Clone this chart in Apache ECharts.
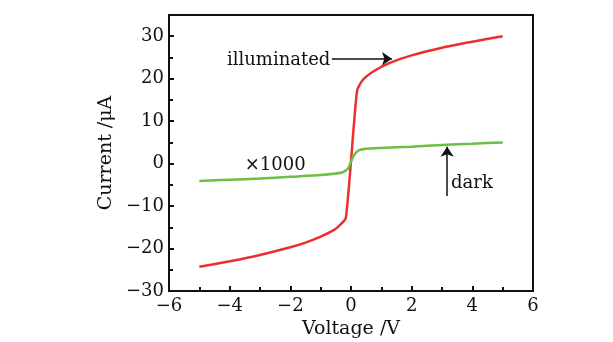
<!DOCTYPE html>
<html><head><meta charset="utf-8">
<script src="https://cdn.jsdelivr.net/npm/echarts@6/dist/echarts.min.js"></script>
<style>html,body{margin:0;padding:0;background:#fff}#c{width:613px;height:342px}</style>
</head><body><div id="c"></div>
<script>
var illumV = [-5, -4, -3, -2, -1.5, -1, -0.6, -0.4, -0.17, 0.2, 0.4, 0.8, 1.3, 2, 3, 4, 5];
var illumI = [-24.3, -23.0, -21.5, -19.7, -18.6, -17.2, -15.8, -14.7, -12.8, 17.2, 19.8, 22.0, 23.8, 25.5, 27.3, 28.7, 30.0];
var darkV = [-5, -4, -3, -2, -1, -0.3, -0.1, 0, 0.1, 0.25, 0.5, 1, 2, 3, 4, 5];
var darkI = [-4.1, -3.8, -3.5, -3.1, -2.7, -2.1, -1.2, 0.5, 2.0, 3.1, 3.5, 3.7, 4.0, 4.4, 4.7, 5.0];
var xTicks = [-6, -4, -2, 0, 2, 4, 6];
var yTicks = [-30, -20, -10, 0, 10, 20, 30];

function pairs(xs, ys) { return xs.map(function (x, i) { return [x, ys[i]]; }); }
var font = 'DejaVu Serif';
var chart = echarts.init(document.getElementById('c'));
chart.setOption({
  backgroundColor: '#fff',
  animation: false,
  grid: { left: 169, right: 80, top: 15, bottom: 51, containLabel: false, outerBoundsMode: 'none',
    show: true, borderColor: '#111', borderWidth: 2, backgroundColor: 'transparent' },
  xAxis: {
    type: 'value', min: -6, max: 6, interval: 2,
    axisLine: { onZero: false, lineStyle: { color: '#111', width: 2 } },
    axisTick: { inside: true, length: 5, lineStyle: { width: 2 } },
    minorTick: { show: true, splitNumber: 2, length: 4, lineStyle: { color: '#111', width: 2 } },
    splitLine: { show: false },
    axisLabel: { color: '#111', fontFamily: font, fontSize: 18, margin: 6,
      formatter: function (v) { return xTicks.indexOf(v) >= 0 ? String(v).replace('-', '\u2212') : ''; } },
    name: 'Voltage /V', nameLocation: 'middle', nameGap: 28,
    nameTextStyle: { color: '#111', fontFamily: font, fontSize: 19 }
  },
  yAxis: {
    type: 'value', min: -30, max: 35, interval: 10,
    axisLine: { onZero: false, lineStyle: { color: '#111', width: 2 } },
    axisTick: { inside: true, length: 5, lineStyle: { width: 2 } },
    minorTick: { show: true, splitNumber: 2, length: 4, lineStyle: { color: '#111', width: 2 } },
    splitLine: { show: false },
    axisLabel: { color: '#111', fontFamily: font, fontSize: 18, margin: 5, showMaxLabel: false,
      formatter: function (v) { return yTicks.indexOf(v) >= 0 ? String(v).replace('-', '\u2212') : ''; } },
    name: 'Current /\u03bcA', nameLocation: 'middle', nameGap: 33,
    nameTextStyle: { color: '#111', fontFamily: font, fontSize: 19 }
  },
  series: [
    {
      type: 'line', data: pairs(illumV, illumI), showSymbol: false, smooth: 0.2,
      lineStyle: { color: '#ee2d2d', width: 2.5 },
      markLine: {
        silent: true, symbol: ['none', 'arrow'], symbolSize: 10,
        lineStyle: { color: '#111', width: 1.5, type: 'solid' }, label: { show: false },
        data: [[{ coord: [-0.63, 24.7] }, { coord: [1.35, 24.7] }]]
      },
      markPoint: {
        silent: true, symbol: 'circle', symbolSize: 0,
        data: [{ coord: [-0.68, 24.4], label: { show: true, position: 'left', distance: 0, formatter: 'illuminated', color: '#111', fontFamily: font, fontSize: 18 } }]
      }
    },
    {
      type: 'line', data: pairs(darkV, darkI), showSymbol: false, smooth: 0.2,
      lineStyle: { color: '#6cbf43', width: 2.5 },
      markLine: {
        silent: true, symbol: ['none', 'arrow'], symbolSize: 10,
        lineStyle: { color: '#111', width: 1.5, type: 'solid' }, label: { show: false },
        data: [[{ coord: [3.17, -7.6] }, { coord: [3.17, 4.0] }]]
      },
      markPoint: {
        silent: true, symbol: 'circle', symbolSize: 0,
        data: [
          { coord: [3.3, -4.6], label: { show: true, position: 'right', distance: 0, formatter: 'dark', color: '#111', fontFamily: font, fontSize: 18 } },
          { coord: [-2.5, -0.4], label: { show: true, position: 'inside', formatter: '\u00d71000', color: '#111', fontFamily: font, fontSize: 18 } }
        ]
      }
    }
  ]
});
</script></body></html>
